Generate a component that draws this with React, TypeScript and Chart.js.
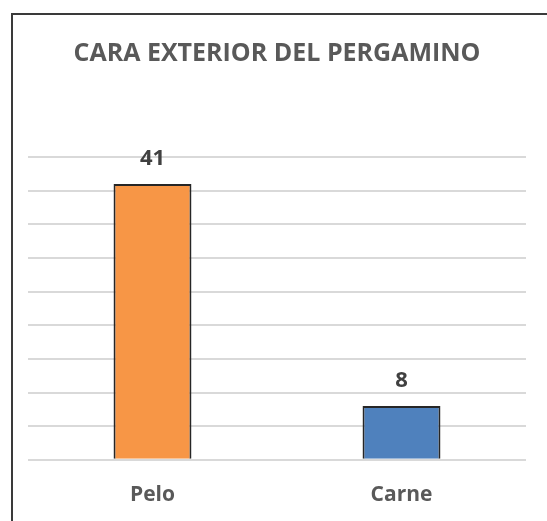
import React, { useEffect, useRef } from "react";
import { Chart, registerables } from "chart.js";

Chart.register(...registerables);

const titleText = "CARA EXTERIOR DEL PERGAMINO";
const categories = ["Pelo", "Carne"];
const values = [41, 8];
const barColors = ["#F79646", "#4F81BD"];
const yMax = 45;
const yStep = 5;

const dataLabelPlugin = {
  id: "dataLabels",
  afterDatasetsDraw(chart: any) {
    const ctx = chart.ctx;
    const meta = chart.getDatasetMeta(0);
    ctx.save();
    ctx.fillStyle = "#404040";
    ctx.font = "bold 22px 'Open Sans'";
    ctx.textAlign = "center";
    ctx.textBaseline = "middle";
    meta.data.forEach((bar: any, i: number) => {
      ctx.fillText(String(values[i]), bar.x, bar.y - 25);
    });
    ctx.restore();
  },
};

export default function App() {
  const ref = useRef<HTMLCanvasElement>(null);
  useEffect(() => {
    if (!ref.current) return;
    const chart = new Chart(ref.current, {
      type: "bar",
      data: {
        labels: categories,
        datasets: [
          {
            data: values,
            backgroundColor: barColors,
            borderColor: "#262626",
            borderWidth: 2,
            borderSkipped: "bottom",
            barPercentage: 0.313,
            categoryPercentage: 1,
          },
        ],
      },
      options: {
        responsive: false,
        animation: false,
        layout: { padding: { left: 28, right: 21, top: 0, bottom: -10 } },
        plugins: {
          legend: { display: false },
          tooltip: { enabled: false },
          title: {
            display: true,
            text: titleText,
            color: "#595959",
            font: { family: "'Open Sans'", size: 25, weight: "bold", lineHeight: 1.2 },
            padding: { top: 39, bottom: 88 },
          },
        },
        scales: {
          x: {
            grid: { display: false, drawTicks: false },
            border: { display: false },
            ticks: {
              color: "#595959",
              font: { family: "'Open Sans'", size: 21, weight: "bold" },
              padding: 23,
            },
          },
          y: {
            min: 0,
            max: yMax,
            ticks: { display: false, stepSize: yStep },
            grid: { color: "#D9D9D9", lineWidth: 2, drawTicks: false },
            border: { display: false },
          },
        },
      },
      plugins: [dataLabelPlugin],
    });
    return () => chart.destroy();
  }, []);
  return (
    <div style={{ position: "absolute", left: 0, top: 0, width: 547, height: 521, background: "#fff" }}>
      <canvas ref={ref} width={547} height={521} style={{ position: "absolute", left: 0, top: 0 }} />
      <div
        style={{
          position: "absolute",
          left: 11,
          top: 13,
          width: 536,
          height: 508,
          borderLeft: "2px solid #3a3a3a",
          borderTop: "2px solid #3a3a3a",
          boxSizing: "border-box",
          pointerEvents: "none",
        }}
      />
    </div>
  );
}
